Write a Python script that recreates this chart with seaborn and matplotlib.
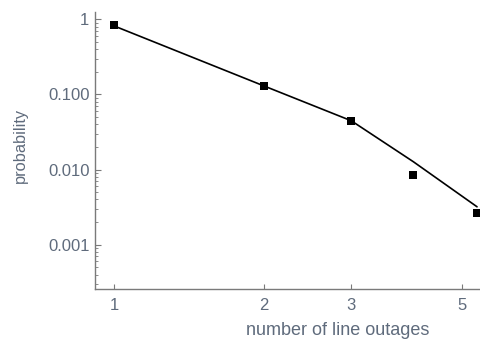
import matplotlib
matplotlib.use("Agg")
import matplotlib.pyplot as plt
import matplotlib.ticker as mticker
import seaborn as sns
import pandas as pd

# data
outages = [1, 2, 3, 4, 5.37]
prob_observed = [0.83, 0.129, 0.0437, 0.0086, 0.00265]
prob_fit = [0.815, 0.13, 0.0446, 0.0127, 0.0032]
x_ticks = [1, 2, 3, 5]
x_tick_labels = ["1", "2", "3", "5"]
y_ticks = [1, 0.1, 0.01, 0.001]
y_tick_labels = ["1", "0.100", "0.010", "0.001"]

df = pd.DataFrame({"outages": outages, "observed": prob_observed, "fit": prob_fit})

sns.set_theme(style="white")
plt.rcParams["font.family"] = ["Liberation Sans", "DejaVu Sans"]

fig = plt.figure(figsize=(4.81, 3.41), dpi=100)
ax = fig.add_axes([95 / 481, 1 - 288.7 / 341, 1 - 95 / 481, (288.7 - 12) / 341])

sns.lineplot(data=df, x="outages", y="fit", color="black", linewidth=1.2, ax=ax, zorder=2)
sns.scatterplot(data=df, x="outages", y="observed", marker="s", s=34, color="black",
                edgecolor="black", linewidth=0, ax=ax, zorder=3, clip_on=True)

ax.set_xscale("log")
ax.set_yscale("log")
ax.set_xlim(0.915, 5.47)
ax.set_ylim(2.6e-4, 1.25)

ax.xaxis.set_major_locator(mticker.FixedLocator(x_ticks))
ax.xaxis.set_major_formatter(mticker.FixedFormatter(x_tick_labels))
ax.xaxis.set_minor_locator(mticker.NullLocator())
ax.yaxis.set_major_locator(mticker.FixedLocator(y_ticks))
ax.yaxis.set_major_formatter(mticker.FixedFormatter(y_tick_labels))
ax.yaxis.set_minor_locator(mticker.LogLocator(base=10, subs=range(2, 10)))
ax.yaxis.set_minor_formatter(mticker.NullFormatter())

label_color = "#5f6b7c"
spine_color = "#7a7a7a"
for side in ["top", "right"]:
    ax.spines[side].set_visible(False)
for side in ["left", "bottom"]:
    ax.spines[side].set_color(spine_color)
    ax.spines[side].set_linewidth(1.0)

ax.tick_params(axis="both", which="both", direction="in", colors=spine_color,
               labelcolor=label_color, labelsize=12)
ax.tick_params(axis="y", which="major", length=4, width=0.8, pad=4, left=True)
ax.tick_params(axis="y", which="minor", length=2, width=0.6, left=True)
ax.tick_params(axis="x", which="major", length=3.5, width=0.8, pad=7, bottom=True)

ax.set_xlabel("number of line outages", color=label_color, fontsize=13)
ax.set_ylabel("probability", color=label_color, fontsize=11.8)
ax.xaxis.set_label_coords(0.628, -0.122)
ax.yaxis.set_label_coords(-0.174, 0.516)

fig.savefig("out.png", dpi=100)
